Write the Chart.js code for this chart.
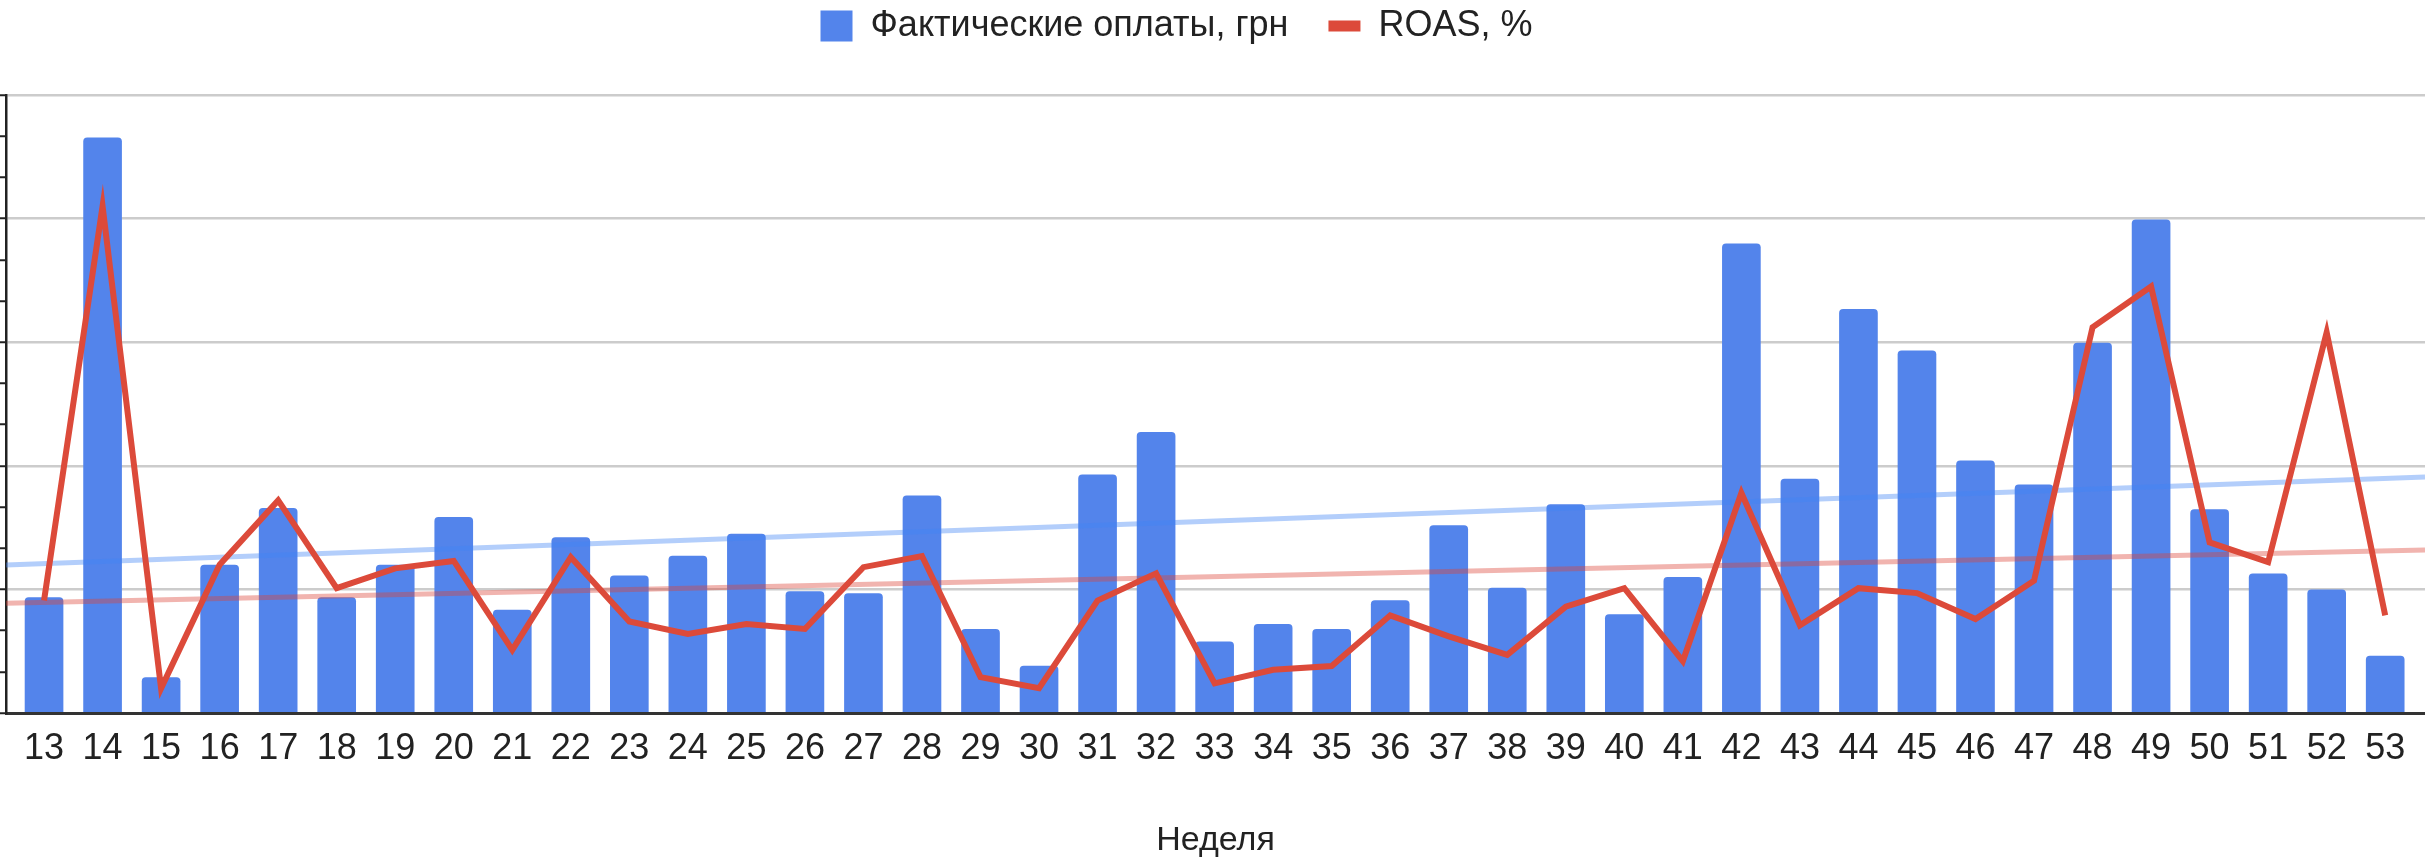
<!DOCTYPE html>
<html>
<head>
<meta charset="utf-8">
<script src="https://cdn.jsdelivr.net/npm/chart.js@4.4.1/dist/chart.umd.min.js"></script>
<style>
  html, body { margin: 0; padding: 0; background: #fff; }
  #wrap { width: 2425px; height: 868px; }
</style>
</head>
<body>
<div id="wrap"><canvas id="chart"></canvas></div>
<script>
// weeks on the x axis
const weeks = [13, 14, 15, 16, 17, 18, 19, 20, 21, 22, 23, 24, 25, 26, 27, 28, 29, 30, 31, 32, 33,
               34, 35, 36, 37, 38, 39, 40, 41, 42, 43, 44, 45, 46, 47, 48, 49, 50, 51, 52, 53];

// actual payments, UAH (axis labels are hidden in the source, values estimated)
const payments = [28000, 139600, 8600, 35900, 49700, 28000, 35900, 47500, 25000, 42600, 33300,
                  38100, 43400, 29500, 29000, 52700, 20300, 11400, 57800, 68100, 17300, 21500,
                  20300, 27300, 45500, 30300, 50600, 23900, 32900, 113900, 56800, 98000, 87900,
                  61200, 55400, 89800, 119700, 49400, 33800, 29900, 13800];

// ROAS, %
const roas = [91, 410, 20, 120, 172, 101, 117, 123, 51, 126, 74, 64, 72, 68, 118, 127, 29, 20,
              91, 113, 24, 35, 38, 79, 62, 47, 86, 101, 42, 178, 71, 101, 97, 76, 107, 312, 345,
              138, 122, 308, 79];

// trend lines, value at left and right edge of the plot
const trendEdges = [12.35, 53.68];
const paymentsTrend = [35900, 57300];
const roasTrend = [88.7, 131.9];

const blue = '#5384EB';
const red = '#DC4A3A';

Chart.defaults.font.family = '"Liberation Sans", Arial, sans-serif';
Chart.defaults.color = '#222';

const legendLabels = (chart) => {
    const items = Chart.defaults.plugins.legend.labels.generateLabels(chart);
    items.forEach(it => {
        if (it.datasetIndex === 1) it.lineWidth = 11;
        if (it.datasetIndex === 0) it.lineWidth = 0;
    });
    return items;
};

// move the legend a bit up and left, like in the source picture
const legendShift = {
    id: 'legendShift',
    afterLayout(chart) {
        const l = chart.legend;
        l.top -= 41;
        l.bottom -= 41;
        l.left -= 72;
    }
};

new Chart(document.getElementById('chart'), {
    data: {
        datasets: [
            {
                type: 'bar',
                label: 'Фактические оплаты, грн',
                data: weeks.map((w, i) => ({ x: w, y: payments[i] })),
                backgroundColor: blue,
                borderRadius: 4,
                barThickness: 38,
                pointStyle: 'rect',
                yAxisID: 'y',
                order: 3
            },
            {
                type: 'line',
                label: 'ROAS, %',
                data: weeks.map((w, i) => ({ x: w, y: roas[i] })),
                borderColor: red,
                backgroundColor: red,
                borderWidth: 6,
                borderJoinStyle: 'miter',
                tension: 0,
                pointRadius: 0,
                pointStyle: 'line',
                yAxisID: 'y1',
                order: 0
            },
            {
                type: 'line',
                label: 'trend payments',
                data: trendEdges.map((x, i) => ({ x: x, y: paymentsTrend[i] })),
                borderColor: 'rgba(66,133,244,0.4)',
                borderWidth: 5,
                pointRadius: 0,
                yAxisID: 'y',
                order: 1
            },
            {
                type: 'line',
                label: 'trend roas',
                data: trendEdges.map((x, i) => ({ x: x, y: roasTrend[i] })),
                borderColor: 'rgba(219,68,55,0.4)',
                borderWidth: 5,
                pointRadius: 0,
                yAxisID: 'y1',
                order: 1
            }
        ]
    },
    options: {
        responsive: true,
        maintainAspectRatio: false,
        animation: false,
        layout: { padding: { top: 9, left: 0, right: 0, bottom: 7 } },
        plugins: {
            tooltip: { enabled: false },
            legend: {
                position: 'top',
                labels: {
                    usePointStyle: true,
                    pointStyleWidth: 32,
                    boxHeight: 31,
                    padding: 40,
                    color: '#222',
                    font: { size: 36 },
                    filter: item => item.datasetIndex < 2,
                    sort: (a, b) => a.datasetIndex - b.datasetIndex,
                    generateLabels: legendLabels
                }
            }
        },
        scales: {
            x: {
                type: 'linear',
                offset: false,
                min: trendEdges[0],
                max: trendEdges[1],
                ticks: {
                    stepSize: 1,
                    includeBounds: false,
                    autoSkip: false,
                    maxRotation: 0,
                    padding: 14,
                    color: '#222',
                    font: { size: 36 },
                    callback: v => {
                        const i = weeks.indexOf(v);
                        return i < 0 ? '' : String(weeks[i]);
                    }
                },
                grid: { display: true, offset: false, drawOnChartArea: false, drawTicks: false },
                border: { color: '#333', width: 3 },
                title: {
                    display: true,
                    text: 'Неделя',
                    color: '#222',
                    font: { size: 34 },
                    padding: { top: 36, bottom: 0 }
                }
            },
            y: {
                position: 'left',
                min: 0,
                max: 150000,
                ticks: { stepSize: 10000, display: false },
                grid: {
                    color: c => (c.tick && c.tick.value > 0 && c.tick.value % 30000 === 0) ? '#cccccc' : 'rgba(0,0,0,0)',
                    lineWidth: 2.5,
                    tickColor: '#222',
                    tickWidth: 2,
                    tickLength: 6
                },
                border: { color: '#222', width: 2.5 }
            },
            y1: {
                display: false,
                position: 'right',
                min: 0,
                max: 500
            }
        }
    },
    plugins: [legendShift]
});
</script>
</body>
</html>
